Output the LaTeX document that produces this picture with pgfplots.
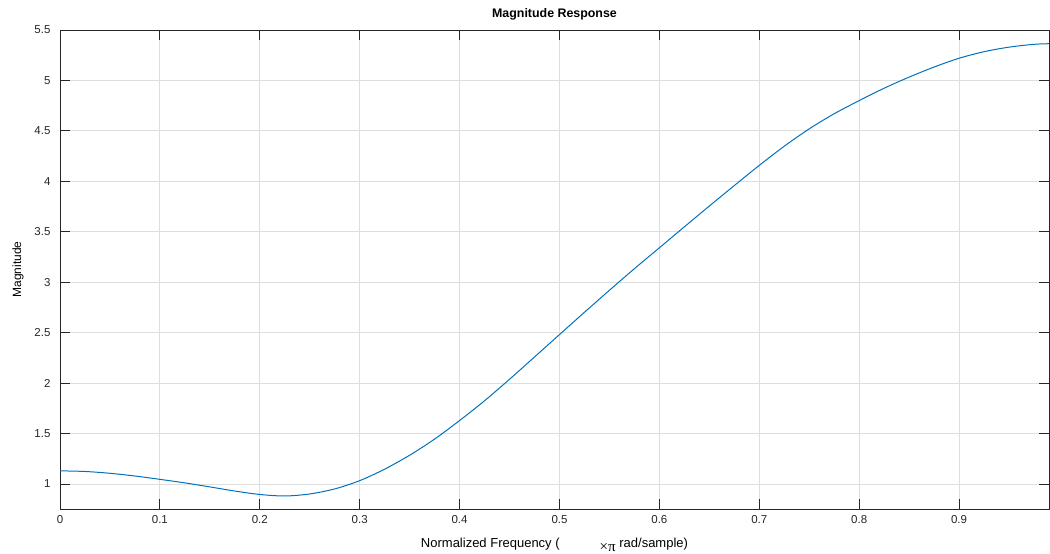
\documentclass[border=0pt]{standalone}
\usepackage{fontspec}
\setmainfont{Liberation Sans}
\newfontfamily\seriffont{Liberation Serif}
\usepackage{pgfplots}
\pgfplotsset{compat=1.18}

\definecolor{mblue}{HTML}{0072BD}
\definecolor{axgray}{HTML}{262626}
\definecolor{grd}{HTML}{DEDEDE}

\begin{document}
\begin{tikzpicture}
\useasboundingbox (-60pt,-45pt) rectangle (990pt,509pt);
\begin{axis}[
    scale only axis,
    width=989pt, height=479pt,
    xmin=0, xmax=0.99,
    ymin=0.752, ymax=5.5,
    xtick={0,0.1,...,0.9},
    ytick={1,1.5,...,5.5},
    grid=major,
    major grid style={grd, line width=0.8pt},
    axis line style={axgray, line width=0.8pt},
    tick style={axgray, line width=0.8pt},
    tick align=inside,
    major tick length=10pt,
    ticklabel style={font=\fontsize{11.5}{13}\selectfont, text=axgray},
    /pgf/number format/assume math mode=true,
    xticklabel style={yshift=-3pt},
    yticklabel style={xshift=-6pt},
    title={\bfseries Magnitude Response},
    title style={font=\fontsize{12.4}{14}\selectfont, yshift=0pt},
    xlabel={Normalized Frequency (\hspace{40pt}\raisebox{-3.5pt}{\seriffont\fontsize{15}{16}\selectfont ×π} rad/sample)},
    xlabel style={font=\fontsize{13}{15}\selectfont, yshift=-8pt},
    ylabel={Magnitude},
    ylabel style={font=\fontsize{12}{14}\selectfont, yshift=4pt},
]
\addplot[mblue, line width=1pt, smooth] coordinates {
(0,1.130) (0.025,1.124) (0.05,1.106) (0.075,1.079) (0.1,1.046)
(0.125,1.011) (0.15,0.971) (0.175,0.930) (0.2,0.896) (0.225,0.881)
(0.25,0.901) (0.275,0.951) (0.3,1.033) (0.325,1.147) (0.35,1.285)
(0.375,1.445) (0.4,1.629) (0.425,1.825) (0.45,2.038) (0.475,2.259)
(0.5,2.481) (0.525,2.702) (0.55,2.920) (0.575,3.134) (0.6,3.341)
(0.625,3.549) (0.65,3.755) (0.675,3.958) (0.7,4.158) (0.725,4.348)
(0.75,4.520) (0.775,4.670) (0.8,4.800) (0.825,4.923) (0.85,5.033)
(0.875,5.133) (0.9,5.220) (0.925,5.285) (0.95,5.330) (0.975,5.358)
(0.99,5.364)
};
\end{axis}
\end{tikzpicture}
\end{document}
